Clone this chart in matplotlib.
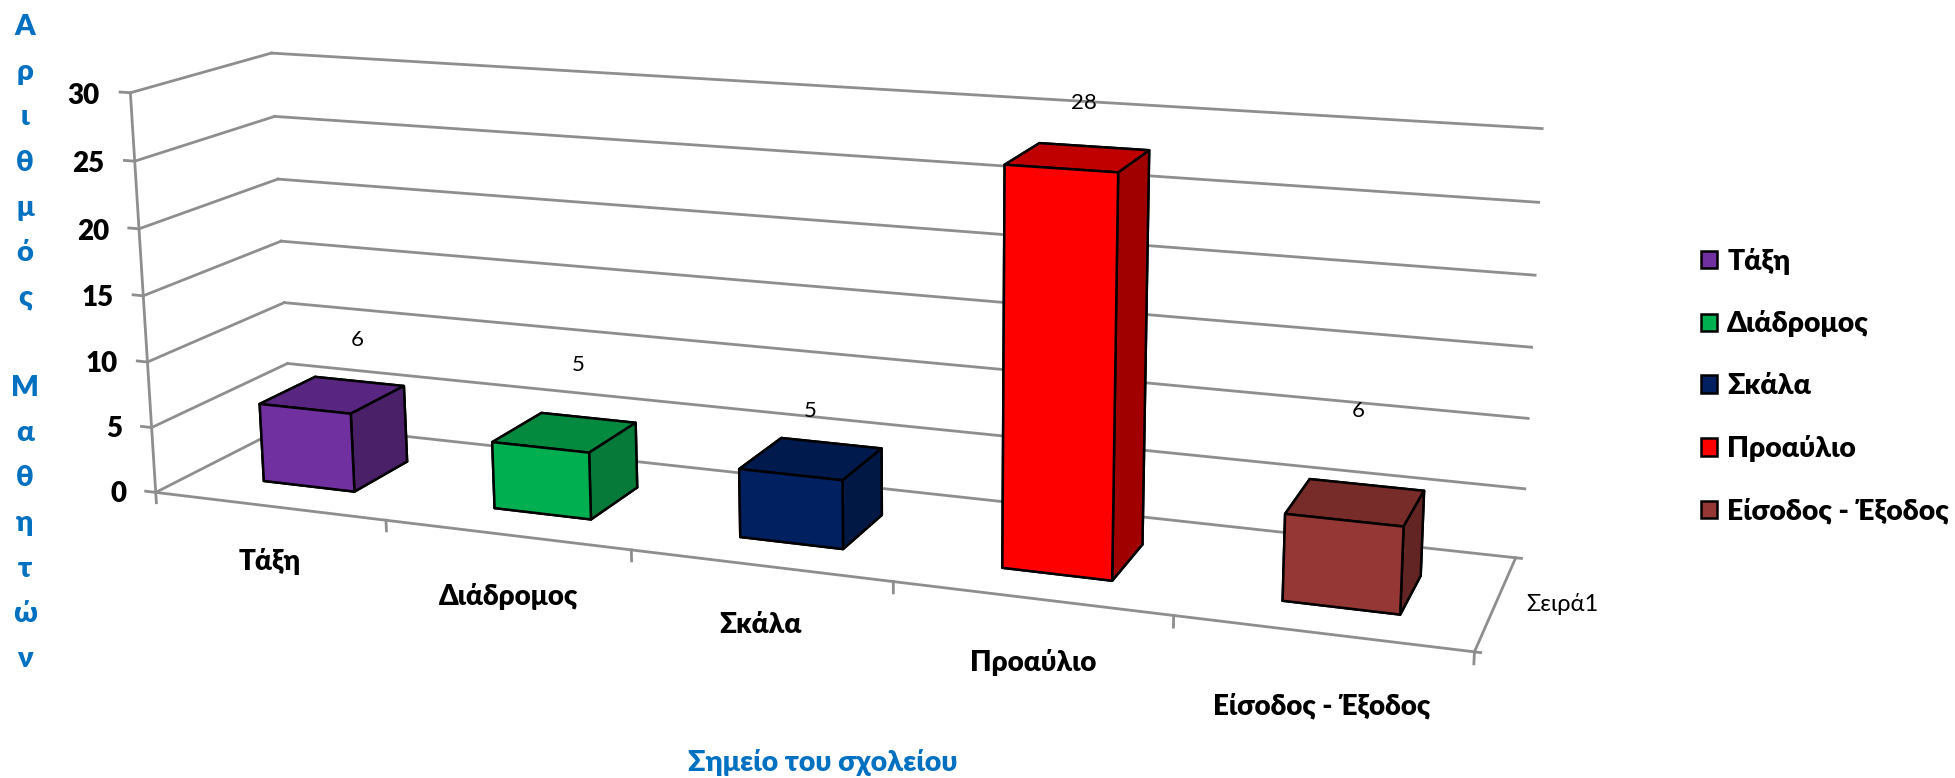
import matplotlib
matplotlib.use("Agg")
import matplotlib.pyplot as plt
import numpy as np
from matplotlib.patches import Patch

plt.rcParams['font.family'] = ['Lato', 'Noto Sans', 'DejaVu Sans']

categories = ["Τάξη", "Διάδρομος", "Σκάλα", "Προαύλιο", "Είσοδος - Έξοδος"]
values = [6, 5, 5, 28, 6]
z_ticks = [0, 5, 10, 15, 20, 25, 30]
series_name = "Σειρά1"
y_title = "Αριθμός Μαθητών"
x_title = "Σημείο του σχολείου"

front_colors = ["#7030A0", "#00B050", "#002060", "#FF0000", "#953735"]
top_colors = ["#582680", "#048A3E", "#001A4D", "#C00000", "#772C2A"]
side_colors = ["#4A2068", "#067A38", "#001843", "#A00000", "#632523"]

# camera: where the corners of the chart box land on the picture
box_points = [(0, 0, 0), (0, 0, 30), (0, 1, 30), (0, 1, 0), (5, 1, 30), (5, 1, 0), (5, 0, 0),
              (1, 0, 0), (2, 0, 0), (3, 0, 0), (4, 0, 0), (0, 0, 15), (0, 1, 15)]
box_pixels = [(156, 492), (130, 92), (272, 53), (290, 423), (1536, 128), (1516, 558), (1475, 652),
              (386, 520), (632, 550), (894, 582), (1172, 615), (143, 297), (281, 242)]


def fit_camera(points, pixels):
    rows = []
    for (x, y, z), (u, v) in zip(points, pixels):
        z = z / 30
        u = u / 1000
        v = v / 1000
        rows.append([x, y, z, 1, 0, 0, 0, 0, -u * x, -u * y, -u * z, -u])
        rows.append([0, 0, 0, 0, x, y, z, 1, -v * x, -v * y, -v * z, -v])
    p = np.linalg.svd(np.array(rows))[2][-1].reshape(3, 4)
    p = np.diag([1000, 1000, 1]) @ p @ np.diag([1, 1, 1 / 30, 1])
    if p[2] @ np.array([2.5, 0.5, 15, 1]) < 0:
        p = -p
    return np.array([p[0], p[1], [0, 0, 0, -1], p[2]])


camera = fit_camera(box_points, box_pixels)

fig = plt.figure(figsize=(19.55, 7.78), dpi=100)
ax = fig.add_subplot(projection="3d", computed_zorder=False)
ax.set_position([0, 0, 1, 1])
ax.set_proj_type("ortho")
ax.apply_aspect = lambda position=None: None
ax.get_proj = lambda: camera
ax.set_axis_off()

grid = "#8E8E8E"
grid_lw = 2.0
for z in z_ticks:
    ax.plot([-0.045, 0, 0], [0, 0, 1], [z, z, z], color=grid, lw=grid_lw, zorder=0)
    ax.plot([0, 5.02], [1, 1], [z, z], color=grid, lw=grid_lw, zorder=0)
    ax.text(-0.135, 0, z - 0.4, str(z), ha="right", va="center", fontsize=20, fontweight="heavy")
ax.plot([0, 0], [0, 0], [-0.8, 30], color=grid, lw=grid_lw, zorder=0)
ax.plot([0, 5], [0, 0], [0, 0], color=grid, lw=grid_lw, zorder=0)
ax.plot([5, 5], [0, 1], [0, 0], color=grid, lw=grid_lw, zorder=0)
for i in range(1, 6):
    ax.plot([i, i], [0, 0], [0, -0.8], color=grid, lw=grid_lw, zorder=0)
ax.plot([5, 5.02], [0, 0], [0, 0], color=grid, lw=grid_lw, zorder=0)

bar_width = 0.4
bar_offset = 0.514
y_start = 0.27
bar_depth = 0.42
label_shift = [0.12, 0.065, 0.0, 0.02, 0.0]
label_lift = [4.45, 5.2, 3.5, 3.7, 6.3]
cat_shift = [-0.01, 0, 0, 0.01, 0.01]
cat_drop = [-4.3, -4.6, -4.3, -4.5, -4.9]

for i, v in enumerate(values):
    colors = [top_colors[i], top_colors[i], front_colors[i], side_colors[i], side_colors[i], side_colors[i]]
    ax.bar3d(i + bar_offset - bar_width / 2, y_start, 0, bar_width, bar_depth, v, color=colors,
             edgecolor="black", linewidth=1.8, shade=False)
    ax.text(i + bar_offset + label_shift[i], y_start + bar_depth / 2, v + label_lift[i], str(v),
            ha="center", va="center", fontsize=16)
    ax.text(i + 0.5 + cat_shift[i], 0, cat_drop[i], categories[i], ha="center", va="center", fontsize=20,
            fontweight="heavy")

ax.text(5.1, 0.52, 0, series_name, ha="left", va="center", fontsize=17)

ax.viewLim.intervalx = (0, 1955)
ax.viewLim.intervaly = (778, 0)

fig.text(823 / 1955, 1 - 763 / 778, x_title, color="#0070C0", ha="center", va="center", fontsize=20.5,
         fontweight="heavy")
fig.text(25 / 1955, 1 - 343 / 778, "\n".join(y_title), color="#0070C0", ha="center", va="center", fontsize=21,
         fontweight="heavy", linespacing=1.91)

handles = [Patch(facecolor=c, edgecolor="black", linewidth=1.8) for c in front_colors]
fig.legend(handles, categories, loc="center left", bbox_to_anchor=(1701 / 1955, 1 - 386 / 778), frameon=False,
           prop={"size": 20.3, "weight": "heavy"}, handlelength=0.58, handleheight=0.58, handletextpad=0.35,
           labelspacing=1.27, borderpad=0, borderaxespad=0)

fig.savefig("out.png", dpi=100)
